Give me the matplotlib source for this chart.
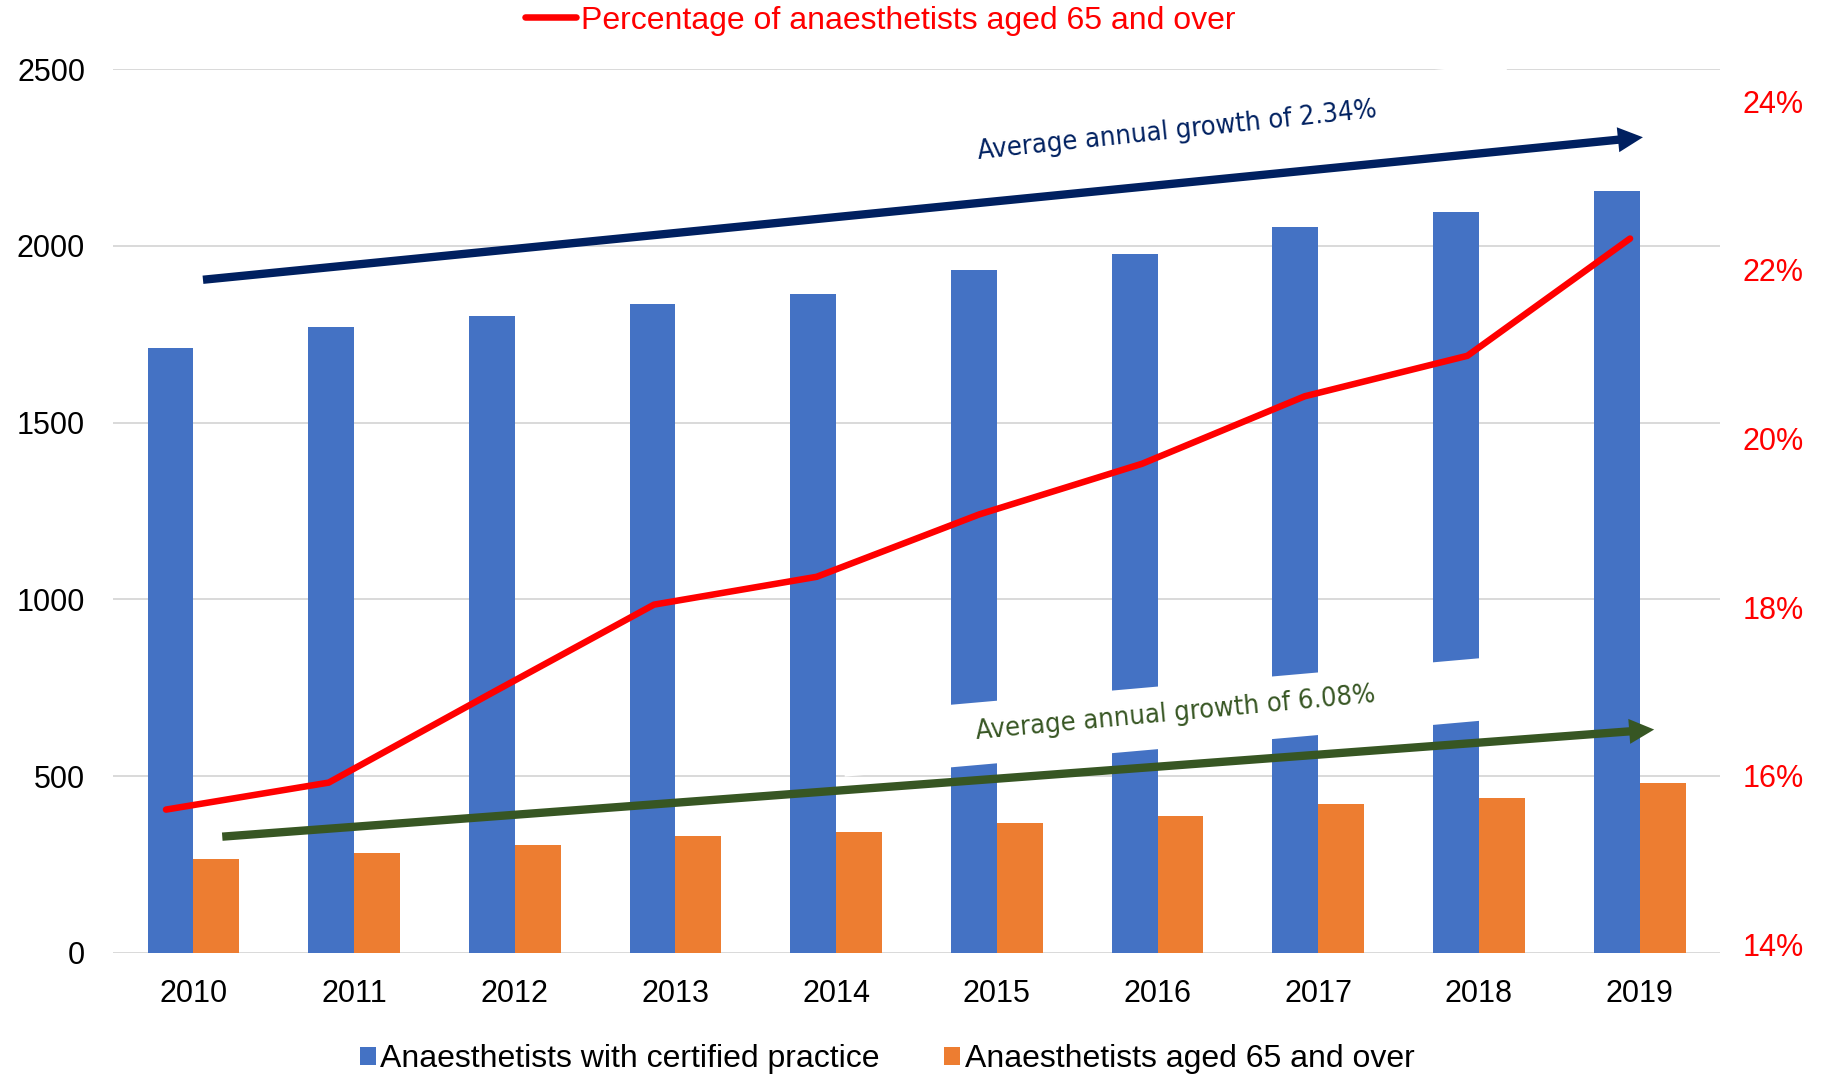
import matplotlib.pyplot as plt
import numpy as np

years = ['2010', '2011', '2012', '2013', '2014', '2015', '2016', '2017', '2018', '2019']
certified = [1711, 1770, 1802, 1835, 1865, 1931, 1977, 2052, 2095, 2154]
aged_65 = [266, 283, 306, 332, 342, 368, 388, 421, 437, 480]
pct_65 = [15.6, 15.92, 16.98, 18.03, 18.36, 19.1, 19.7, 20.5, 20.98, 22.37]

blue = '#4472C4'
orange = '#ED7D31'
red = '#FF0000'
navy = '#002060'
green = '#375623'

plt.rcParams['font.family'] = ['Liberation Sans', 'DejaVu Sans']

fig = plt.figure(figsize=(18.25, 10.8), dpi=100)
ax = fig.add_axes([0.0619, 0.1176, 0.8806, 0.8185])

x = np.arange(len(years))
w = 0.285
ax.bar(x - w / 2, certified, w, color=blue, zorder=1, label='Anaesthetists with certified practice')
ax.bar(x + w / 2, aged_65, w, color=orange, zorder=1, label='Anaesthetists aged 65 and over')

ax.set_xlim(-0.5, 9.5)
ax.set_ylim(0, 2500)
ax.set_yticks([0, 500, 1000, 1500, 2000, 2500])
ax.set_xticks(x)
ax.set_xticklabels(years)
ax.set_axisbelow(True)
ax.grid(axis='y', color='#d9d9d9', lw=1.4, zorder=0)
for s in ax.spines.values():
    s.set_visible(False)
ax.tick_params(axis='both', length=0, labelsize=22)
ax.tick_params(axis='y', pad=20)
ax.tick_params(axis='x', pad=19)

# white boxes behind the growth labels (cut through the bars like in the original)
bx = np.array([4.05, 8.45])
ax.fill_between(bx, 500 + 40 * (bx - 4.05), 677 + 40 * (bx - 4.05), color='white', lw=0, zorder=2)
bx = np.array([4.6, 8.17])
ax.fill_between(bx, 2320 + 45.5 * (bx - 7.75), 2500 + 45.5 * (bx - 7.75), color='white', lw=0, zorder=2)

# growth arrows
arrow = 'simple,head_length=0.6,head_width=0.6,tail_width=0.2'
ax.annotate('', xy=(9.02, 2307), xytext=(0.06, 1904),
            arrowprops=dict(arrowstyle=arrow, lw=0, color=navy, mutation_scale=30,
                            shrinkA=0, shrinkB=0), zorder=3)
ax.annotate('', xy=(9.09, 632), xytext=(0.18, 329),
            arrowprops=dict(arrowstyle=arrow, lw=0, color=green, mutation_scale=30,
                            shrinkA=0, shrinkB=0), zorder=3)
label_font = dict(family=['DejaVu Sans'], fontstretch='condensed', fontsize=19.5)
ax.text(6.12, 2325, 'Average annual growth of 2.34%', color=navy, rotation=6,
        ha='center', va='center', zorder=4, rotation_mode='anchor', **label_font)
ax.text(6.11, 678, 'Average annual growth of 6.08%', color=green, rotation=5.3,
        ha='center', va='center', zorder=4, rotation_mode='anchor', **label_font)

# percentage line on secondary axis
ax2 = ax.twinx()
ax2.plot(np.linspace(-0.17, 8.94, len(years)), pct_65, color=red, lw=4.7,
         solid_capstyle='round', solid_joinstyle='miter',
         label='Percentage of anaesthetists aged 65 and over')
ax2.set_ylim(13.9, 24.38)
ax2.set_yticks([14, 16, 18, 20, 22, 24])
ax2.set_yticklabels(['14%', '16%', '18%', '20%', '22%', '24%'])
for s in ax2.spines.values():
    s.set_visible(False)
ax2.tick_params(axis='y', length=0, labelsize=22, labelcolor=red, pad=16)

h1, l1 = ax.get_legend_handles_labels()
fig.legend(h1, l1, loc='center', bbox_to_anchor=(0.486, 0.019), ncol=2, frameon=False,
           fontsize=23, handlelength=0.5, handleheight=0.5, handletextpad=0.15,
           columnspacing=2.0)
h2, l2 = ax2.get_legend_handles_labels()
leg = fig.legend(h2, l2, loc='center', bbox_to_anchor=(0.4825, 0.981), frameon=False,
                 fontsize=23, handlelength=1.6, handletextpad=0.15)
for t in leg.get_texts():
    t.set_color(red)

fig.savefig('out.png', dpi=100)
